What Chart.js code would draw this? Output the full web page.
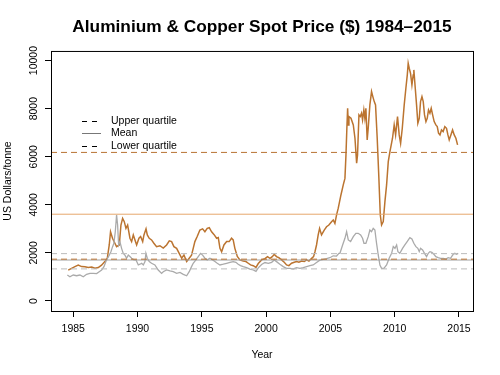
<!doctype html>
<html lang="en">
<head>
  <meta charset="utf-8">
  <title>Aluminium & Copper Spot Price ($) 1984–2015</title>
  <style>
    * { margin: 0; padding: 0; }
    body { background: white; }
    .chartBox { width: 500px; height: 375px; }
  </style>
</head>
<body>
<div class="chartBox">
  <canvas id="myChart" width="500" height="375"></canvas>
</div>

<script src="https://cdn.jsdelivr.net/npm/chart.js"></script>
<script>
  // data (decimal year, US$/tonne)
  const copperYears = [1984.61,1984.87,1985.13,1985.39,1985.65,1985.91,1986.17,1986.43,1986.69,1986.95,
    1987.2,1987.46,1987.65,1987.8,1987.9,1988.06,1988.24,1988.37,1988.58,1988.71,1988.84,1988.97,1989.1,1989.23,
    1989.41,1989.54,1989.67,1989.8,1989.93,1990.11,1990.24,1990.4,1990.5,1990.66,1990.76,1990.91,1991.09,1991.27,
    1991.48,1991.74,1992.0,1992.26,1992.47,1992.65,1992.83,1993.04,1993.24,1993.43,1993.61,1993.82,1994.02,1994.2,
    1994.33,1994.46,1994.64,1994.85,1995.06,1995.24,1995.42,1995.58,1995.76,1995.94,1996.15,1996.28,1996.41,1996.54,
    1996.72,1996.93,1997.13,1997.31,1997.44,1997.57,1997.76,1997.96,1998.22,1998.43,1998.61,1998.79,1999.0,1999.21,
    1999.39,1999.65,1999.91,2000.11,2000.3,2000.48,2000.63,2000.81,2000.99,2001.2,2001.41,2001.59,2001.77,2001.98,
    2002.19,2002.37,2002.55,2002.76,2002.97,2003.15,2003.33,2003.54,2003.69,2003.8,2003.92,2004.05,2004.16,2004.31,
    2004.52,2004.7,2004.88,2005.09,2005.22,2005.35,2005.48,2005.61,2005.82,2006.0,2006.13,2006.21,2006.28,2006.34,
    2006.39,2006.44,2006.6,2006.78,2006.91,2007.04,2007.11,2007.22,2007.32,2007.42,2007.5,2007.6,2007.68,2007.76,
    2007.86,2007.94,2008.07,2008.2,2008.3,2008.41,2008.51,2008.64,2008.77,2008.88,2008.98,2009.11,2009.24,2009.37,
    2009.5,2009.63,2009.83,2009.96,2010.07,2010.22,2010.35,2010.46,2010.59,2010.74,2010.87,2010.98,2011.05,2011.13,
    2011.23,2011.34,2011.44,2011.49,2011.6,2011.7,2011.8,2011.91,2012.01,2012.12,2012.22,2012.32,2012.43,2012.53,
    2012.63,2012.74,2012.84,2012.95,2013.07,2013.2,2013.31,2013.41,2013.52,2013.64,2013.77,2013.9,2014.03,2014.14,
    2014.24,2014.37,2014.5,2014.63,2014.76,2014.89];
  const copperPrice = [1280,1360,1430,1490,1430,1420,1390,1410,1360,1390,
    1490,1640,1780,2330,2880,2600,2400,2260,2330,3160,3440,3300,3020,3160,
    2610,2470,2750,2540,2330,2610,2680,2470,2750,3000,2750,2610,2540,2400,
    2260,2300,2200,2330,2500,2470,2260,2190,1980,1780,1910,1640,1780,1910,
    2190,2470,2680,2950,3000,2880,3020,3050,2880,2770,2610,2640,2190,2050,
    2330,2470,2470,2610,2540,2190,1850,1710,1660,1640,1570,1500,1470,1400,
    1560,1710,1760,1845,1775,1845,1940,1845,1800,1710,1610,1500,1470,1570,
    1610,1640,1610,1660,1640,1710,1660,1775,1845,2050,2330,2750,3020,2750,
    2950,3090,3160,3300,3370,3230,3580,3860,4410,4830,5100,6075,7185,8017,
    7323,7670,7601,7323,6769,5728,6075,7740,7670,7809,7531,7948,7601,8017,
    6699,7185,8156,8710,8502,8294,8156,6769,5104,3578,3162,3301,4133,4827,
    5798,6214,6769,7323,6907,7670,6907,6561,7185,8156,8849,9404,9889,9681,
    9473,8988,9404,9612,8849,8156,7393,7601,8294,8502,8294,7740,7462,7601,
    7948,7809,8017,7740,7462,7323,7254,6977,6907,7115,7046,7254,7185,6907,
    6699,6907,7115,6907,6769,6491];

  const aluYears = [1984.54,1984.74,1985.0,1985.26,1985.52,1985.78,1986.04,1986.3,1986.56,1986.82,
    1987.02,1987.21,1987.39,1987.54,1987.67,1987.8,1987.93,1988.06,1988.16,1988.27,1988.37,1988.45,1988.53,1988.63,
    1988.76,1988.89,1989.02,1989.15,1989.28,1989.41,1989.54,1989.72,1989.88,1990.06,1990.19,1990.32,1990.45,1990.58,
    1990.65,1990.76,1990.91,1991.09,1991.35,1991.61,1991.87,1992.0,1992.26,1992.52,1992.78,1993.04,1993.3,1993.56,
    1993.82,1994.02,1994.2,1994.33,1994.54,1994.72,1994.9,1995.06,1995.24,1995.42,1995.63,1995.84,1996.02,1996.2,
    1996.41,1996.67,1996.93,1997.19,1997.44,1997.65,1997.83,1998.01,1998.22,1998.48,1998.74,1999.0,1999.21,1999.39,
    1999.65,1999.91,2000.17,2000.43,2000.63,2000.81,2001.07,2001.33,2001.59,2001.85,2002.11,2002.37,2002.63,2002.89,
    2003.15,2003.41,2003.66,2003.92,2004.18,2004.44,2004.7,2004.96,2005.22,2005.48,2005.66,2005.74,2005.95,2006.13,
    2006.26,2006.39,2006.57,2006.78,2006.98,2007.16,2007.35,2007.5,2007.61,2007.76,2007.94,2008.07,2008.2,2008.33,
    2008.46,2008.59,2008.72,2008.85,2008.98,2009.16,2009.37,2009.57,2009.76,2009.89,2010.02,2010.15,2010.25,2010.4,
    2010.61,2010.79,2010.97,2011.18,2011.34,2011.49,2011.65,2011.8,2011.91,2012.01,2012.17,2012.32,2012.48,2012.61,
    2012.74,2012.89,2013.05,2013.2,2013.38,2013.57,2013.77,2013.98,2014.16,2014.34,2014.55,2014.68,2014.81,2014.94];
  const aluPrice = [1080,1010,1080,1050,1080,1010,1110,1150,1150,1140,
    1220,1290,1430,1640,1780,1910,2050,2260,2400,2880,3580,3160,2330,2470,
    2190,1980,1910,1780,1910,1850,1780,1710,1710,1500,1530,1570,1500,1640,
    1980,1780,1640,1570,1500,1290,1150,1220,1290,1250,1220,1150,1190,1110,
    1050,1220,1430,1570,1710,1850,1980,1910,1780,1710,1780,1710,1640,1570,
    1500,1530,1570,1610,1640,1610,1530,1470,1430,1390,1330,1290,1230,1380,
    1520,1600,1567,1609,1706,1637,1526,1429,1359,1359,1332,1387,1359,1387,
    1429,1470,1498,1600,1700,1730,1760,1800,1880,1870,1983,1983,2330,2608,
    2885,2538,2469,2677,2816,2816,2746,2608,2400,2400,2677,2954,2885,3024,
    2954,2400,1914,1498,1359,1359,1498,1775,1983,2261,2191,2330,2053,1983,
    2191,2330,2469,2635,2580,2400,2261,2191,2053,2191,2122,1983,1845,1983,
    2053,2025,1942,1845,1803,1775,1775,1748,1803,1775,1942,1983,1942,1983];

  // summary lines
  const copperStats = { upper: 6180, mean: 3610, lower: 1740 };
  const aluStats = { upper: 1970, mean: 1705, lower: 1335 };

  // axes
  const xTicks = [1985, 1990, 1995, 2000, 2005, 2010, 2015];
  const yTicks = [0, 2000, 4000, 6000, 8000, 10000];
  const xMin = 1983.27, xMax = 2016.09;
  const yMin = -416, yMax = 10400;

  const legendItems = [
    { label: 'Upper quartile', color: '#000', dash: [5, 5] },
    { label: 'Mean', color: '#777', dash: [] },
    { label: 'Lower quartile', color: '#000', dash: [5, 5] }
  ];

  const FONT = "'Liberation Sans', Arial, sans-serif";
  Chart.defaults.font.family = FONT;
  Chart.defaults.color = '#000';

  function toPoints(xs, ys) {
    return xs.map((x, i) => ({ x: x, y: ys[i] }));
  }
  function hline(v, color, dash, order) {
    return {
      data: [{ x: xMin, y: v }, { x: xMax, y: v }],
      borderColor: color,
      borderWidth: 1,
      borderDash: dash,
      pointRadius: 0,
      order: order
    };
  }

  const datasets = [
    {
      label: 'Copper',
      data: toPoints(copperYears, copperPrice),
      borderColor: '#bb7430',
      borderWidth: 1.5,
      pointRadius: 0,
      order: 3
    },
    {
      label: 'Aluminium',
      data: toPoints(aluYears, aluPrice),
      borderColor: '#aaaaaa',
      borderWidth: 1.3,
      pointRadius: 0,
      order: 2
    },
    hline(copperStats.upper, '#b87333', [6, 4], 1),
    hline(copperStats.mean, '#e6a86c', [], 1),
    hline(aluStats.upper, '#bbbbbb', [6, 4], 1),
    hline(aluStats.mean, '#a0a0a0', [], 1),
    hline(copperStats.lower, '#b87333', [6, 4], 0),
    hline(aluStats.lower, '#bbbbbb', [6, 4], 1)
  ];

  // box round the plot + legend in the top left
  const boxAndLegend = {
    id: 'boxAndLegend',
    afterDraw(chart) {
      const { ctx, chartArea: a } = chart;
      ctx.save();
      ctx.strokeStyle = '#000';
      ctx.lineWidth = 1;
      ctx.setLineDash([]);
      ctx.strokeRect(a.left + 0.5, a.top + 0.5, a.width, a.height);

      ctx.font = '10.5px ' + FONT;
      ctx.textBaseline = 'middle';
      ctx.textAlign = 'left';
      legendItems.forEach((it, i) => {
        const y = Math.round(a.top + 70 + i * 12.5) + 0.5;
        ctx.beginPath();
        ctx.strokeStyle = it.color;
        ctx.setLineDash(it.dash);
        ctx.moveTo(a.left + 31, y);
        ctx.lineTo(a.left + (it.dash.length ? 46 : 50), y);
        ctx.stroke();
        ctx.fillStyle = '#000';
        ctx.fillText(it.label, a.left + 60, y);
      });
      ctx.restore();
    }
  };

  const config = {
    type: 'line',
    data: { datasets },
    options: {
      responsive: false,
      animation: false,
      layout: { padding: { top: 0, right: 27, bottom: 0, left: 0 } },
      elements: { line: { tension: 0 } },
      scales: {
        x: {
          type: 'linear',
          min: xMin,
          max: xMax,
          afterBuildTicks: s => { s.ticks = xTicks.map(v => ({ value: v })); },
          afterFit: s => { s.height = 64; },
          grid: { drawOnChartArea: false, drawTicks: true, tickLength: 6, color: '#000' },
          border: { display: false },
          ticks: {
            autoSkip: false,
            maxRotation: 0,
            padding: 6,
            font: { size: 10.5 },
            callback: v => String(v)
          },
          title: {
            display: true,
            text: 'Year',
            font: { size: 10.5 },
            padding: { top: 0, bottom: 14 }
          }
        },
        y: {
          min: yMin,
          max: yMax,
          afterBuildTicks: s => { s.ticks = yTicks.map(v => ({ value: v })); },
          afterFit: s => { s.width = 51; },
          grid: { drawOnChartArea: false, drawTicks: true, tickLength: 6, color: '#000' },
          border: { display: false },
          ticks: {
            minRotation: 90,
            maxRotation: 90,
            crossAlign: 'center',
            padding: -4,
            font: { size: 10.5 },
            callback: v => String(v)
          },
          title: {
            display: true,
            text: 'US Dollars/tonne',
            font: { size: 10.5 },
            padding: { top: 2, bottom: 0 }
          }
        }
      },
      plugins: {
        legend: { display: false },
        tooltip: { enabled: false },
        title: {
          display: true,
          fullSize: false,
          text: 'Aluminium & Copper Spot Price ($) 1984–2015',
          color: '#000',
          font: { size: 17.3, weight: 'bold' },
          padding: { top: 17, bottom: 13.2 }
        }
      }
    },
    plugins: [boxAndLegend]
  };

  const myChart = new Chart(document.getElementById('myChart'), config);
</script>
</body>
</html>
